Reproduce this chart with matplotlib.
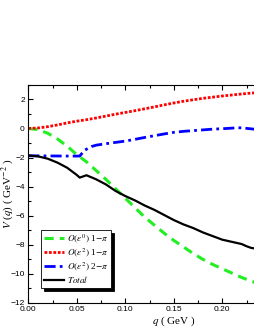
import numpy as np
import matplotlib
matplotlib.use("Agg")
import matplotlib.pyplot as plt
from matplotlib.ticker import MultipleLocator, FixedLocator

plt.rcParams['font.family'] = ['Liberation Serif', 'DejaVu Serif']
plt.rcParams['mathtext.fontset'] = 'stix'

q_green = [0.0, 0.01, 0.02, 0.03, 0.04, 0.05, 0.06, 0.07, 0.08, 0.09, 0.10, 0.11, 0.12,
           0.13, 0.14, 0.15, 0.16, 0.17, 0.18, 0.19, 0.20, 0.21, 0.22, 0.23, 0.24]
v_green = [0.0, -0.08, -0.33, -0.72, -1.22, -1.8, -2.3, -2.9, -3.5, -4.15, -4.8, -5.45, -6.1,
           -6.65, -7.2, -7.7, -8.15, -8.6, -9.0, -9.35, -9.65, -9.95, -10.25, -10.5, -10.75]

q_red = [0.0, 0.01, 0.02, 0.03, 0.04, 0.05, 0.06, 0.07, 0.08, 0.09, 0.10, 0.11, 0.12,
         0.13, 0.14, 0.15, 0.16, 0.17, 0.18, 0.19, 0.20, 0.21, 0.22, 0.23, 0.24]
v_red = [0.0, 0.03, 0.12, 0.24, 0.38, 0.5, 0.6, 0.72, 0.85, 0.98, 1.1, 1.22, 1.35,
         1.48, 1.62, 1.75, 1.87, 1.97, 2.07, 2.15, 2.23, 2.3, 2.37, 2.43, 2.48]

q_blue = [0.0, 0.02, 0.04, 0.053, 0.058, 0.065, 0.07, 0.08, 0.09, 0.10, 0.11, 0.12, 0.13,
          0.14, 0.15, 0.16, 0.17, 0.18, 0.19, 0.20, 0.21, 0.215, 0.22, 0.23, 0.24]
v_blue = [-1.88, -1.89, -1.9, -1.9, -1.5, -1.25, -1.15, -1.05, -0.96, -0.87, -0.75, -0.62, -0.5,
          -0.38, -0.27, -0.2, -0.15, -0.1, -0.05, -0.02, 0.02, 0.05, 0.04, -0.03, -0.1]

q_black = [0.0, 0.01, 0.02, 0.03, 0.04, 0.05, 0.053, 0.06, 0.07, 0.08, 0.09, 0.10, 0.11,
           0.12, 0.13, 0.14, 0.15, 0.16, 0.17, 0.18, 0.19, 0.20, 0.21, 0.22, 0.225, 0.23, 0.24]
v_black = [-1.86, -1.92, -2.08, -2.35, -2.7, -3.2, -3.38, -3.22, -3.5, -3.85, -4.3, -4.65, -4.95,
           -5.3, -5.6, -5.95, -6.3, -6.6, -6.85, -7.15, -7.4, -7.65, -7.8, -7.95, -8.1, -8.22, -8.3]

x_ticks = [0.00, 0.05, 0.10, 0.15, 0.20]
x_minor = [0.025, 0.075, 0.125, 0.175, 0.225]

labels = [r'$O(\varepsilon^0)$ 1$-\pi$', r'$O(\varepsilon^2)$ 1$-\pi$',
          r'$O(\varepsilon^2)$ 2$-\pi$', r'$Total$']

fig = plt.figure(figsize=(2.55, 3.3), dpi=100)
ax = fig.add_axes([0.111, 0.082, 1.141, 0.661])

ax.plot(q_green, v_green, color='#22ee22', lw=2.2, ls=(0, (3, 2)), label=labels[0])
ax.plot(q_red, v_red, color='#ff0000', lw=2.0, ls=(0, (1, 0.6)), label=labels[1])
ax.plot(q_blue, v_blue, color='#0000ff', lw=2.0, ls=(0, (4, 1.5, 1, 1.5)), label=labels[2])
ax.plot(q_black, v_black, color='black', lw=1.6, ls='-', label=labels[3])

ax.set_xlim(0, 0.3)
ax.set_ylim(-12, 3)
ax.xaxis.set_major_locator(FixedLocator(x_ticks))
ax.xaxis.set_minor_locator(FixedLocator(x_minor))
ax.yaxis.set_major_locator(MultipleLocator(2))
ax.yaxis.set_minor_locator(MultipleLocator(1))
ax.xaxis.set_major_formatter(matplotlib.ticker.FormatStrFormatter('%.2f'))
ax.tick_params(which='both', direction='in', top=True, right=True, width=0.8)
ax.tick_params(which='major', length=3.5, labelsize=6, pad=2.5)
ax.tick_params(which='minor', length=2)
for lab in ax.get_xticklabels() + ax.get_yticklabels():
    lab.set_family('Liberation Sans')

ax.set_xlabel(r'$q$ ( GeV )', fontsize=8, labelpad=1)
ax.set_ylabel(r'$V$ ($q$) ( GeV$^{-2}$ )', fontsize=8)
ax.yaxis.set_label_coords(-0.043, 0.5)

leg = ax.legend(loc='lower left', bbox_to_anchor=(0.044, 0.069), borderaxespad=0,
                fontsize=6.7, frameon=True, fancybox=False, edgecolor='black',
                shadow={'color': 'black', 'alpha': 1.0}, handlelength=2.2,
                labelspacing=0.15, borderpad=0.3, handletextpad=0.3, framealpha=1)
leg.get_frame().set_linewidth(0.6)

fig.savefig('out.png', dpi=100)
